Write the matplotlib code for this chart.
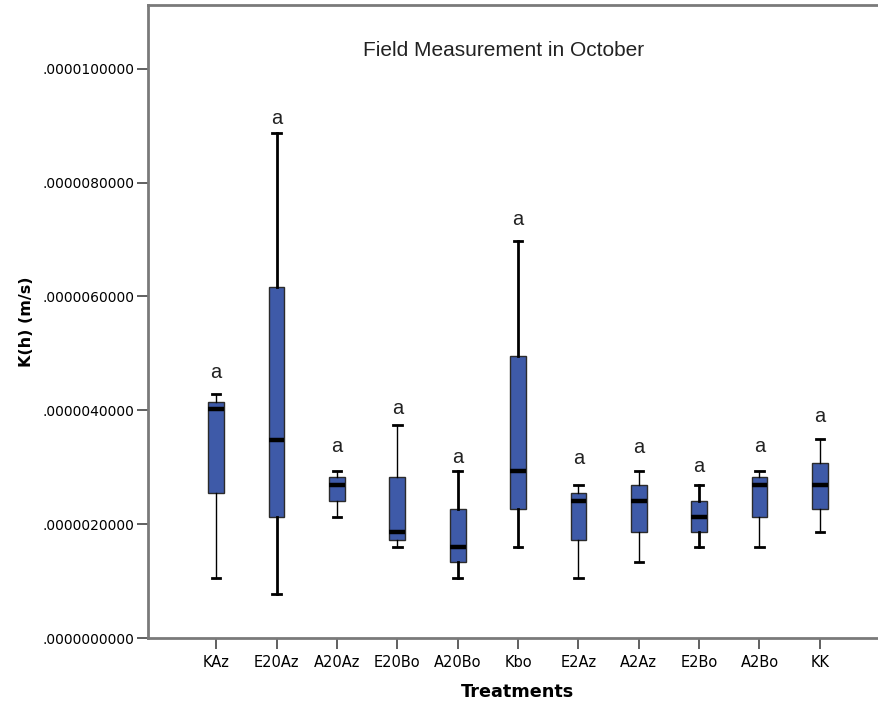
import matplotlib
matplotlib.use("Agg")
import matplotlib.pyplot as plt

# Treatments and box statistics (m/s)
treatments = ['KAz', 'E20Az', 'A20Az', 'E20Bo', 'A20Bo', 'Kbo',
              'E2Az', 'A2Az', 'E2Bo', 'A2Bo', 'KK']
whisker_low = [1.06, 0.77, 2.13, 1.60, 1.06, 1.60, 1.06, 1.33, 1.60, 1.60, 1.87]
q1 = [2.54, 2.12, 2.40, 1.72, 1.33, 2.26, 1.72, 1.87, 1.87, 2.13, 2.26]
median = [4.02, 3.48, 2.68, 1.87, 1.60, 2.94, 2.41, 2.41, 2.13, 2.68, 2.68]
q3 = [4.15, 6.17, 2.82, 2.82, 2.26, 4.96, 2.54, 2.68, 2.41, 2.82, 3.08]
whisker_high = [4.29, 8.87, 2.94, 3.74, 2.94, 6.98, 2.68, 2.94, 2.68, 2.94, 3.49]
# significance letters and the height (1e-6 m/s) they sit at
letters = ['a'] * len(treatments)
letter_y = [4.67, 9.12, 3.36, 4.04, 3.18, 7.35, 3.15, 3.34, 3.01, 3.37, 3.90]
scale = 1e-6

stats = []
for i in range(len(treatments)):
    stats.append({
        'whislo': whisker_low[i] * scale,
        'q1': q1[i] * scale,
        'med': median[i] * scale,
        'q3': q3[i] * scale,
        'whishi': whisker_high[i] * scale,
        'fliers': [],
    })

fig = plt.figure(figsize=(8.79, 7.04), dpi=100)
ax = fig.add_axes([148 / 879, 66 / 704, 731 / 879, 633 / 704])

pos = list(range(len(treatments)))
# SPSS draws some whiskers heavier than others
whisker_lw = [1.0, 2.0, 1.0, 1.0, 2.0, 2.0, 1.0, 1.0, 2.0, 1.0, 1.0]

bp = ax.bxp(stats, positions=pos, widths=0.26, patch_artist=True,
            showfliers=False, capwidths=0.14,
            boxprops=dict(facecolor='#3E5AA8', edgecolor='#2b2b2b', linewidth=1.0),
            medianprops=dict(color='black', linewidth=3.2),
            whiskerprops=dict(color='black', linewidth=1.0),
            capprops=dict(color='black', linewidth=2.0))

for i, lw in enumerate(whisker_lw):
    bp['whiskers'][2 * i].set_linewidth(lw)
    bp['whiskers'][2 * i + 1].set_linewidth(lw)

for i, txt in enumerate(letters):
    ax.annotate(txt, (pos[i], letter_y[i] * scale), xytext=(0, -4),
                textcoords='offset points', ha='center', va='baseline',
                fontsize=14.5, family='Liberation Sans', color='#222222')

ax.set_xlim(-1.13, 10.98)
ax.set_ylim(0, 11.12e-6)
yt = [i * 2e-6 for i in range(6)]
ax.set_yticks(yt)
ax.set_yticklabels(['.' + f'{v:.10f}'.split('.')[1] for v in yt],
                   fontsize=10, family='DejaVu Sans')
ax.set_xticks(pos)
ax.set_xticklabels(treatments, fontsize=10.5, family='DejaVu Sans')
ax.tick_params(axis='both', length=8, width=1.2, color='#444444')
ax.tick_params(axis='x', pad=4)
ax.tick_params(axis='y', pad=2)

for side in ['left', 'top', 'bottom']:
    ax.spines[side].set_color('#7a7a7a')
    ax.spines[side].set_linewidth(2.0)
ax.spines['right'].set_visible(False)

ax.text(0.487, 0.928, 'Field Measurement in October', transform=ax.transAxes,
        ha='center', va='center', fontsize=15, family='Liberation Sans', color='#222222')
ax.set_ylabel('K(h) (m/s)', fontsize=11.5, fontweight='bold', family='DejaVu Sans')
ax.yaxis.set_label_coords(-0.156, 0.5)
ax.set_xlabel('Treatments', fontsize=12.7, fontweight='bold', family='DejaVu Sans')
ax.xaxis.set_label_coords(0.505, -0.071)

fig.savefig('out.png', dpi=100)
